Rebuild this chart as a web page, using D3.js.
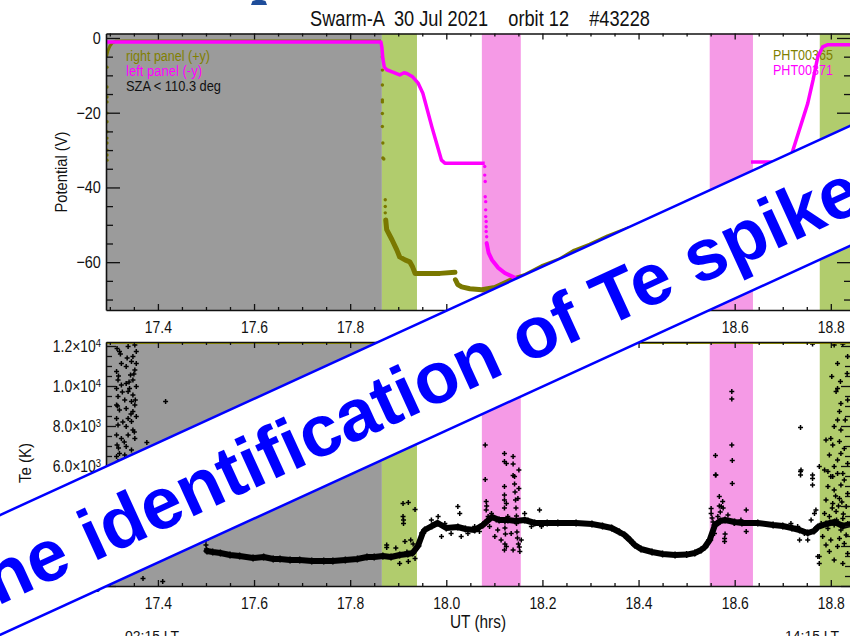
<!DOCTYPE html>
<html>
<head>
<meta charset="utf-8">
<script src="https://cdn.jsdelivr.net/npm/d3@7/dist/d3.min.js"></script>
<style>
html, body { margin: 0; padding: 0; background: #fff; overflow: hidden; }
svg { display: block; }
text { font-family: "Liberation Sans", Arial, Helvetica, sans-serif; }
</style>
</head>
<body>
<svg id="chart" width="850" height="636"></svg>
<script>
// ---------------- data ----------------
const utDomain = [17.292, 18.842];
const potentialDomain = [-72.8, 1.2];
const teDomain = [0, 12200];

const utTicks = [17.4, 17.6, 17.8, 18.0, 18.2, 18.4, 18.6, 18.8];
const potentialTicks = [0, -20, -40, -60];
const teTicks = [0, 2000, 4000, 6000, 8000, 10000, 12000];

// shaded intervals (UT hours)
const intervalStart = [17.292, 17.866, 18.074, 18.548, 18.777];
const intervalEnd   = [17.866, 17.939, 18.155, 18.638, 18.842];
const intervalKind  = ["eclipse", "flag", "spike", "spike", "flag"];

// right panel (+y) potential, PHT00365
const rightPanelTop = [[17.293,-5.0],[17.296,-3.4],[17.300,-2.2],[17.305,-1.3],[17.312,-0.9],[17.330,-0.8],[17.864,-0.8]];
const rightPanelDots = [
  [17.294,-7.8],[17.294,-13.1],[17.294,-15.8],[17.294,-17.1],[17.294,-20.1],[17.294,-22.4],[17.294,-25.1],
  [17.294,-26.8],[17.294,-28.1],[17.294,-30.0],[17.294,-31.3],[17.294,-32.7],
  [17.867,-5.1],[17.867,-8.6],[17.867,-12.6],[17.867,-16.6],[17.867,-17.1],[17.867,-20.2],[17.867,-23.7],
  [17.868,-28.1],[17.868,-32.1],[17.870,-32.4],[17.873,-43.3],[17.873,-45.1],[17.873,-46.8],[17.874,-48.7]
];
const rightPanelLowA = [[17.874,-48.7],[17.876,-51.3],[17.887,-54.0],[17.897,-56.7],[17.903,-58.6],[17.914,-59.4],
  [17.924,-59.9],[17.930,-61.3],[17.935,-63.0],[17.955,-63.0],[17.987,-63.0],[18.018,-62.7]];
const rightPanelLowB = [[18.019,-64.7],[18.024,-66.0],[18.032,-66.6],[18.049,-67.1],[18.074,-67.4],[18.101,-66.8],
  [18.136,-64.7],[18.163,-63.6],[18.199,-61.2],[18.236,-59.4],[18.267,-57.0],[18.299,-55.4],[18.336,-53.2],[18.380,-51.0]];

// left panel (-y) potential, PHT00371
const leftPanelTop = [[17.292,-1.1],[17.864,-1.1],[17.866,-2.5],[17.868,-5.5],[17.871,-7.8],[17.876,-8.5],[17.890,-9.2],
  [17.903,-9.9],[17.912,-9.3],[17.918,-9.5],[17.930,-10.4],[17.941,-12.0],[17.951,-14.7],[17.955,-16.6],
  [17.970,-23.8],[17.990,-32.7],[17.997,-33.5],[18.080,-33.5]];
const leftPanelFallDots = [[18.080,-34.4],[18.080,-36.7],[18.081,-38.4],[18.081,-42.5],[18.082,-43.8],[18.082,-46.0],
  [18.082,-47.8],[18.083,-49.1],[18.083,-50.5],[18.083,-51.8],[18.084,-53.2]];
const leftPanelFall = [[18.084,-54.9],[18.088,-57.5],[18.095,-59.4],[18.108,-61.5],[18.122,-62.9],[18.143,-64.2]];
const leftPanelRecover = [[18.634,-33.2],[18.712,-33.2],[18.719,-30.9],[18.752,-17.5],[18.763,-11.3],[18.773,-5.0],
  [18.783,-2.4],[18.794,-1.8],[18.842,-1.8]];

// electron temperature (K)
const teTrace = [
  [17.502,1750],[17.514,1700],[17.530,1650],[17.550,1550],[17.570,1500],[17.598,1400],[17.620,1450],[17.640,1350],
  [17.654,1350],[17.675,1300],[17.695,1300],[17.720,1250],[17.745,1250],[17.764,1250],[17.790,1300],[17.815,1350],
  [17.835,1450],[17.850,1450],[17.868,1500],[17.885,1450],[17.903,1550],[17.920,1600],[17.930,1650],[17.941,2000],
  [17.951,2650],[17.955,2800],[17.970,3000],[17.982,3150],[18.000,2900],[18.024,2950],[18.040,2850],[18.059,2800],
  [18.076,3050],[18.095,3450],[18.110,3300],[18.128,3300],[18.145,3250],[18.163,3300],[18.184,3150],[18.210,3150],
  [18.232,3150],[18.270,3150],[18.303,3100],[18.325,3000],[18.344,2900],[18.360,2700],[18.371,2550],[18.382,2300],
  [18.392,2050],[18.405,1850],[18.428,1700],[18.450,1600],[18.476,1550],[18.500,1570],[18.517,1650],[18.530,1800],
  [18.538,1950],[18.548,2300],[18.559,3050],[18.570,3250],[18.580,3300],[18.600,3200],[18.615,3150],[18.648,3150],
  [18.680,3050],[18.700,3000],[18.719,2900],[18.735,2800],[18.752,2650],[18.765,2750],[18.773,2950],[18.790,3100],
  [18.808,3200],[18.825,3000],[18.842,3100]
];
const teEclipseExit = [
  [17.315,11880],[17.320,11720],[17.338,11970],[17.352,12050],[17.355,11720],[17.348,11470],[17.324,11130],[17.345,11220],
  [17.314,10720],[17.334,10970],[17.355,11130],[17.352,10800],[17.343,10550],[17.317,10300],[17.324,10050],[17.334,10130],
  [17.348,10300],[17.314,9880],[17.341,9880],[17.355,9970],[17.338,9720],[17.348,9550],[17.317,9470],[17.331,9300],
  [17.345,9220],[17.352,9050],[17.314,9050],[17.320,8800],[17.334,8880],[17.348,8720],[17.314,8380],[17.338,8380],
  [17.345,8220],[17.355,8470],[17.317,8050],[17.334,7970],[17.348,7800],[17.314,7550],[17.324,7380],[17.338,7550],
  [17.352,7380],[17.315,7050],[17.334,6970],[17.345,6800],[17.320,6630],[17.331,6550],[17.314,6470],[17.341,6380],
  [17.348,6300],[17.317,6220],[17.322,11600],[17.336,11400],[17.350,10600],[17.318,10500],[17.340,10200],[17.326,9700],
  [17.353,9300],[17.316,9000],[17.344,8600],[17.327,8200],[17.351,7700],[17.330,7200],[17.318,6900],[17.347,6500],
  [17.333,6100],[17.352,5900],[17.316,5700],[17.340,5500],[17.322,5100],[17.346,4700],[17.318,4200],[17.335,3800],
  [17.377,7180],[17.416,9220],[17.369,380],[17.410,220],[17.500,2300],[17.500,2050],[17.501,1850]
];
const teSpikes = [
  [17.910,4130],[17.921,4170],[17.935,3830],[17.910,3470],[17.911,3300],[17.911,3130],[17.876,2050],[17.876,1930],
  [17.914,2220],[17.926,2300],[17.931,2100],[17.903,1130],[17.921,1220],[17.935,1380],[17.895,1900],[17.918,1700],
  [17.969,3300],[17.983,3470],[17.990,2470],[17.997,3130],[18.010,2630],[18.024,3970],[18.028,3630],[18.031,2470],
  [18.045,2630],[18.059,2970],[18.069,2720],
  [18.083,4220],[18.083,3800],[18.087,3470],[18.094,3630],[18.121,4970],[18.121,4550],[18.125,4130],[18.142,5470],
  [18.151,4880],[18.149,4380],[18.121,1800],[18.125,1970],[18.139,1800],[18.153,1720],[18.114,2300],[18.101,2470],
  [18.156,2300],[18.107,2800],[18.135,2630],[18.146,3130],[18.090,2970],[18.104,3300],[18.128,3470],[18.163,3630],
  [18.170,3300],[18.177,2970],[18.194,3800],[18.198,2970],[18.121,4300],[18.121,3900],[18.122,3200],[18.122,2900],
  [18.123,2600],[18.122,2100],[18.142,5100],[18.143,4700],[18.144,4300],[18.145,3900],[18.146,3500],[18.147,2700],
  [18.148,2400],[18.150,2100],[18.152,1950],[18.084,4000],[18.085,3300],
  [18.081,7050],[18.081,5330],[18.121,6630],[18.121,6220],[18.125,6130],[18.139,6470],[18.139,6100],[18.151,5800],[18.139,5520],
  [18.561,5550],[18.595,5130],[18.568,4470],[18.575,4220],[18.551,3880],[18.551,3630],[18.572,3970],[18.624,3800],
  [18.579,2220],[18.579,2380],[18.558,2630],[18.624,2720],[18.599,3130],[18.565,3470],[18.586,3550],[18.613,3300],
  [18.553,3400],[18.555,3200],[18.568,4000],[18.570,3700],[18.580,2600],[18.576,3900],
  [18.594,9720],[18.594,9350],[18.594,7050],[18.560,6520],[18.595,6270],[18.560,5550],
  [18.738,5800],[18.762,5380],[18.762,5050],[18.769,3800],[18.766,3630],[18.752,2300],[18.735,2300],[18.773,1470],
  [18.776,1130],[18.717,3130],[18.731,2970],[18.745,2630],[18.759,3300],[18.769,2880],[18.737,7930],[18.737,5720],
  [18.737,5550],[18.762,5550],[18.762,12100],
  [18.807,12050],[18.814,11130],[18.802,10470],[18.820,10220],[18.814,9880],[18.811,9720],[18.821,9130],[18.818,8720],
  [18.814,8300],[18.807,7970],[18.821,7800],[18.800,7380],[18.818,7220],[18.804,7050],[18.828,6880],[18.797,6550],
  [18.814,6300],[18.807,5970],[18.776,5970],[18.835,11470],[18.834,10630],[18.825,12100],[18.835,9300],[18.830,8300],
  [18.790,7300],[18.821,6630],[18.835,6130],[18.794,5720],[18.825,5630],[18.804,5470],
  [18.787,5800],[18.800,5470],[18.814,5630],[18.828,5300],[18.794,4970],[18.807,4800],[18.821,5050],[18.835,4630],
  [18.790,4300],[18.804,4130],[18.818,4380],[18.832,3970],[18.787,3630],[18.797,3470],[18.811,3720],[18.825,3380],
  [18.780,3130],[18.794,2880],[18.807,3050],[18.821,2800],[18.835,3130],[18.783,2470],[18.800,2300],[18.818,2380],
  [18.832,2550],[18.776,1470],[18.797,1720],[18.825,1130],[18.807,1300],[18.814,1970],[18.835,1630],[18.790,2050],
  [18.828,2130],[18.810,4500],[18.816,4000],[18.803,3900],[18.823,4200],[18.812,3300],[18.798,3200],[18.826,3600]
];
const teSaturation = [[17.292,12150],[18.842,12150]];

// ---------------- chart ----------------
const OLIVE = "#7a7800", MAGENTA = "#ff00ff", INK = "#111";
const kindColor = { eclipse: "#9b9b9b", flag: "#b1cc6d", spike: "#f59ae6" };

const svg = d3.select("#chart");
const x = d3.scaleLinear().domain(utDomain).range([106, 851]);
const yPot = d3.scaleLinear().domain(potentialDomain).range([310, 33.5]);
const yTe = d3.scaleLinear().domain(teDomain).range([586, 342]);

const defs = svg.append("defs");
function clip(id, ys) {
  const [b, t] = ys.range();
  defs.append("clipPath").attr("id", id).append("rect")
    .attr("x", x.range()[0]).attr("y", t).attr("width", x.range()[1] - x.range()[0]).attr("height", b - t);
}
clip("clipPot", yPot);
clip("clipTe", yTe);

// title
svg.append("text").attr("x", 310).attr("y", 26).attr("font-size", 22)
  .attr("textLength", 340).attr("lengthAdjust", "spacingAndGlyphs").style("white-space", "pre")
  .attr("fill", INK).text("Swarm-A  30 Jul 2021    orbit 12    #43228");

// shaded intervals
const intervals = intervalStart.map((s, i) => ({ s, e: intervalEnd[i], kind: intervalKind[i] }));
[[yPot, "clipPot"], [yTe, "clipTe"]].forEach(([ys, id]) => {
  const [b, t] = ys.range();
  svg.append("g").attr("clip-path", `url(#${id})`)
    .selectAll("rect").data(intervals).join("rect")
    .attr("x", d => x(d.s)).attr("width", d => x(d.e) - x(d.s))
    .attr("y", t).attr("height", b - t).attr("fill", d => kindColor[d.kind]);
});

// legends
function label(txt, px, py, size, color, len, anchor) {
  const t = svg.append("text").attr("x", px).attr("y", py).attr("font-size", size).attr("fill", color)
    .attr("text-anchor", anchor || "start").text(txt);
  if (len) t.attr("textLength", len).attr("lengthAdjust", "spacingAndGlyphs");
  return t;
}
label("right panel (+y)", 126, 61, 14, "#808000", 84);
label("left panel (-y)", 126, 76, 14, MAGENTA, 76);
label("SZA < 110.3 deg", 126, 91, 14, INK, 95);
label("PHT00365", 773, 60, 14, "#808000", 60);
label("PHT00371", 773, 75, 14, MAGENTA, 60);

// axis titles
svg.append("text").attr("transform", "translate(67,172) rotate(-90)").attr("text-anchor", "middle")
  .attr("font-size", 16).attr("fill", INK).attr("textLength", 81).attr("lengthAdjust", "spacingAndGlyphs")
  .text("Potential (V)");
svg.append("text").attr("transform", "translate(31,463) rotate(-90)").attr("text-anchor", "middle")
  .attr("font-size", 16).attr("fill", INK).attr("textLength", 40).attr("lengthAdjust", "spacingAndGlyphs")
  .text("Te (K)");
label("UT (hrs)", 450, 628, 18, INK, 56);
label("02:15 LT", 125, 641, 15, INK, 54);
label("14:15 LT", 785, 641, 15, INK, 54);

// potential panel data
const potLine = d3.line().x(d => x(d[0])).y(d => yPot(d[1]));
const gPot = svg.append("g").attr("clip-path", "url(#clipPot)");
gPot.append("path").attr("d", potLine(rightPanelTop)).attr("fill", "none").attr("stroke", OLIVE).attr("stroke-width", 3);
gPot.selectAll(".rdot").data(rightPanelDots).join("circle").attr("class", "rdot")
  .attr("cx", d => x(d[0])).attr("cy", d => yPot(d[1])).attr("r", 1.7).attr("fill", OLIVE);
[rightPanelLowA, rightPanelLowB].forEach(seg =>
  gPot.append("path").attr("d", potLine(seg)).attr("fill", "none").attr("stroke", OLIVE)
    .attr("stroke-width", 5).attr("stroke-linecap", "round").attr("stroke-linejoin", "round"));
gPot.append("path").attr("d", potLine(leftPanelTop)).attr("fill", "none").attr("stroke", MAGENTA)
  .attr("stroke-width", 3.5).attr("stroke-linejoin", "round");
gPot.selectAll(".ldot").data(leftPanelFallDots).join("circle").attr("class", "ldot")
  .attr("cx", d => x(d[0])).attr("cy", d => yPot(d[1])).attr("r", 1.7).attr("fill", MAGENTA);
gPot.append("path").attr("d", potLine(leftPanelFall)).attr("fill", "none").attr("stroke", MAGENTA)
  .attr("stroke-width", 4).attr("stroke-linecap", "round");
gPot.append("path").attr("d", potLine(leftPanelRecover)).attr("fill", "none").attr("stroke", MAGENTA)
  .attr("stroke-width", 3.5).attr("stroke-linejoin", "round");

// Te panel data
const teLine = d3.line().x(d => x(d[0])).y(d => yTe(d[1]));
const gTe = svg.append("g").attr("clip-path", "url(#clipTe)");
gTe.append("path").attr("d", teLine(teTrace)).attr("fill", "none").attr("stroke", "#000")
  .attr("stroke-width", 6).attr("stroke-linejoin", "round").attr("stroke-linecap", "round");
function crosses(g, pts, size) {
  g.append("g").selectAll("path").data(pts).join("path")
    .attr("d", d => `M${x(d[0]) - size},${yTe(d[1])}h${2 * size}M${x(d[0])},${yTe(d[1]) - size}v${2 * size}`)
    .attr("stroke", "#000").attr("stroke-width", 1.5);
}
crosses(gTe, teTrace, 3.5);
crosses(gTe, teEclipseExit, 2.5);
crosses(gTe, teSpikes, 2.5);
svg.append("path").attr("d", teLine(teSaturation)).attr("fill", "none").attr("stroke", "#a3a000").attr("stroke-width", 2);

// axes with inward ticks
const utMinor = d3.range(346, 377).map(i => i / 20).filter(v => !utTicks.some(t => Math.abs(t - v) < 1e-6));
function styleAxis(g, drawDomain) {
  g.attr("font-size", 17).attr("font-family", '"Liberation Sans", Arial, sans-serif').attr("color", INK);
  g.selectAll(".tick line").attr("stroke-width", 1.3);
  if (drawDomain) g.select(".domain").attr("stroke-width", 1.6);
  else g.select(".domain").remove();
}
function frame(ys, yMajor, yMinor, yFmt, majLen, minLen) {
  const [b, t] = ys.range();
  const [l, r] = x.range();
  const gb = svg.append("g").attr("transform", `translate(0,${b})`)
    .call(d3.axisBottom(x).tickValues(utTicks).tickSizeInner(-6).tickSizeOuter(0).tickPadding(11).tickFormat(d3.format(".1f")));
  styleAxis(gb, true);
  gb.selectAll("text").attr("transform", "scale(0.82,1)");
  styleAxis(svg.append("g").attr("transform", `translate(0,${b})`)
    .call(d3.axisBottom(x).tickValues(utMinor).tickSizeInner(-3).tickSizeOuter(0).tickFormat("")), false);
  styleAxis(svg.append("g").attr("transform", `translate(0,${t})`)
    .call(d3.axisTop(x).tickValues(utTicks).tickSizeInner(-6).tickSizeOuter(0).tickFormat("")), true);
  styleAxis(svg.append("g").attr("transform", `translate(0,${t})`)
    .call(d3.axisTop(x).tickValues(utMinor).tickSizeInner(-3).tickSizeOuter(0).tickFormat("")), false);
  const gl = svg.append("g").attr("transform", `translate(${l},0)`)
    .call(d3.axisLeft(ys).tickValues(yMajor).tickSizeInner(-majLen).tickSizeOuter(0).tickPadding(6).tickFormat(yFmt));
  styleAxis(gl, true);
  styleAxis(svg.append("g").attr("transform", `translate(${l},0)`)
    .call(d3.axisLeft(ys).tickValues(yMinor).tickSizeInner(-minLen).tickSizeOuter(0).tickFormat("")), false);
  styleAxis(svg.append("g").attr("transform", `translate(${r},0)`)
    .call(d3.axisRight(ys).tickValues(yMajor).tickSizeInner(-majLen).tickSizeOuter(0).tickFormat("")), true);
  styleAxis(svg.append("g").attr("transform", `translate(${r},0)`)
    .call(d3.axisRight(ys).tickValues(yMinor).tickSizeInner(-minLen).tickSizeOuter(0).tickFormat("")), false);
  return gl;
}
const potMinor = d3.range(-70, 1, 5).filter(v => !potentialTicks.includes(v));
const glPot = frame(yPot, potentialTicks, potMinor, d3.format("d"), 14, 7);
glPot.selectAll("text").attr("transform", "scale(0.85,1)");

const teMinor = d3.range(0, 12001, 500).filter(v => !teTicks.includes(v));
const glTe = frame(yTe, teTicks, teMinor, d => String(d), 10, 6);
glTe.selectAll(".tick text").each(function (d) {
  const t = d3.select(this);
  t.attr("transform", "scale(0.82,1)");
  if (d === 0) return;
  const e = Math.floor(Math.log10(d));
  t.text(null);
  t.append("tspan").text(`${(d / 10 ** e).toFixed(1)}×10`);
  t.append("tspan").attr("dy", "-0.45em").attr("font-size", "0.68em").text(e);
});

// header fragment
svg.append("path").attr("d", "M251,5 L252.5,1 L256,0 L262,0 L265.5,1 L267,5 Z").attr("fill", "#1f4d9a");

// banner
const banner = svg.append("g").attr("transform", "translate(0,575) rotate(-24.6)");
banner.append("rect").attr("x", -200).attr("y", -54.5).attr("width", 1400).attr("height", 109).attr("fill", "#fff");
[-54.5, 54.5].forEach(yy => banner.append("line").attr("x1", -200).attr("x2", 1200).attr("y1", yy).attr("y2", yy)
  .attr("stroke", "#0000ff").attr("stroke-width", 2.5));
banner.append("text").attr("x", -60).attr("y", 27).attr("font-size", 73).attr("font-weight", "bold")
  .attr("fill", "#0000ff").text("The identification of Te spikes");
</script>
</body>
</html>
